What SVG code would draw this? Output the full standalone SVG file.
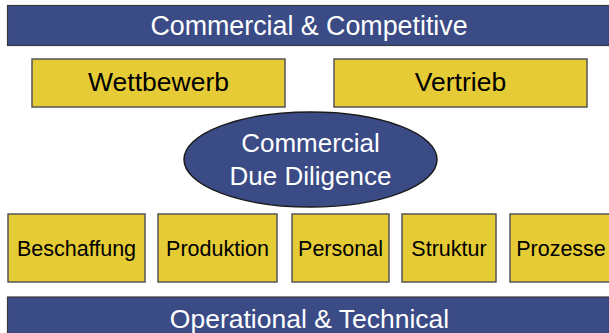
<svg xmlns="http://www.w3.org/2000/svg" width="609" height="333" viewBox="0 0 609 333">
<style>
.bar{fill:#3B4B86;stroke:#3a3a3a;stroke-width:1.2}
.box{fill:#E5CB36;stroke:#555;stroke-width:1.5}
.ell{fill:#3B4B86;stroke:#1a1a1a;stroke-width:1.5}
.wt{fill:#fff;font-family:"Liberation Sans",Arial,sans-serif;text-anchor:middle}
.bt{fill:#000;font-family:"Liberation Sans",Arial,sans-serif;text-anchor:middle}
</style>
<rect width="609" height="333" fill="#fff"/>
<g id="commercial-competitive">
<rect class="bar" x="7.5" y="5.5" width="610" height="40"/>
<text class="wt" x="309" y="35" font-size="26.8">Commercial &amp; Competitive</text>
</g>
<g id="wettbewerb">
<rect class="box" x="32" y="59" width="253" height="48"/>
<text class="bt" x="158.5" y="91" font-size="26.5">Wettbewerb</text>
</g>
<g id="vertrieb">
<rect class="box" x="334" y="59" width="253" height="48"/>
<text class="bt" x="460.5" y="91" font-size="26.5">Vertrieb</text>
</g>
<g id="commercial-due-diligence">
<ellipse class="ell" cx="310.5" cy="159.5" rx="126.5" ry="47.5"/>
<text class="wt" x="310.5" y="152" font-size="26">Commercial</text>
<text class="wt" x="310.5" y="185" font-size="26">Due Diligence</text>
</g>
<g id="beschaffung">
<rect class="box" x="8" y="214" width="137" height="68"/>
<text class="bt" x="76.5" y="256" font-size="21.5">Beschaffung</text>
</g>
<g id="produktion">
<rect class="box" x="158" y="214" width="119" height="68"/>
<text class="bt" x="217.5" y="256" font-size="21.5">Produktion</text>
</g>
<g id="personal">
<rect class="box" x="292" y="214" width="97" height="68"/>
<text class="bt" x="340.5" y="256" font-size="21.5">Personal</text>
</g>
<g id="struktur">
<rect class="box" x="402" y="214" width="94" height="68"/>
<text class="bt" x="449" y="256" font-size="21.5">Struktur</text>
</g>
<g id="prozesse">
<rect class="box" x="510" y="214" width="104" height="68"/>
<text class="bt" x="561" y="256" font-size="21.5">Prozesse</text>
</g>
<g id="operational-technical">
<rect class="bar" x="7.5" y="297" width="610" height="45"/>
<text class="wt" x="309.5" y="328" font-size="26.5">Operational &amp; Technical</text>
</g>
</svg>
